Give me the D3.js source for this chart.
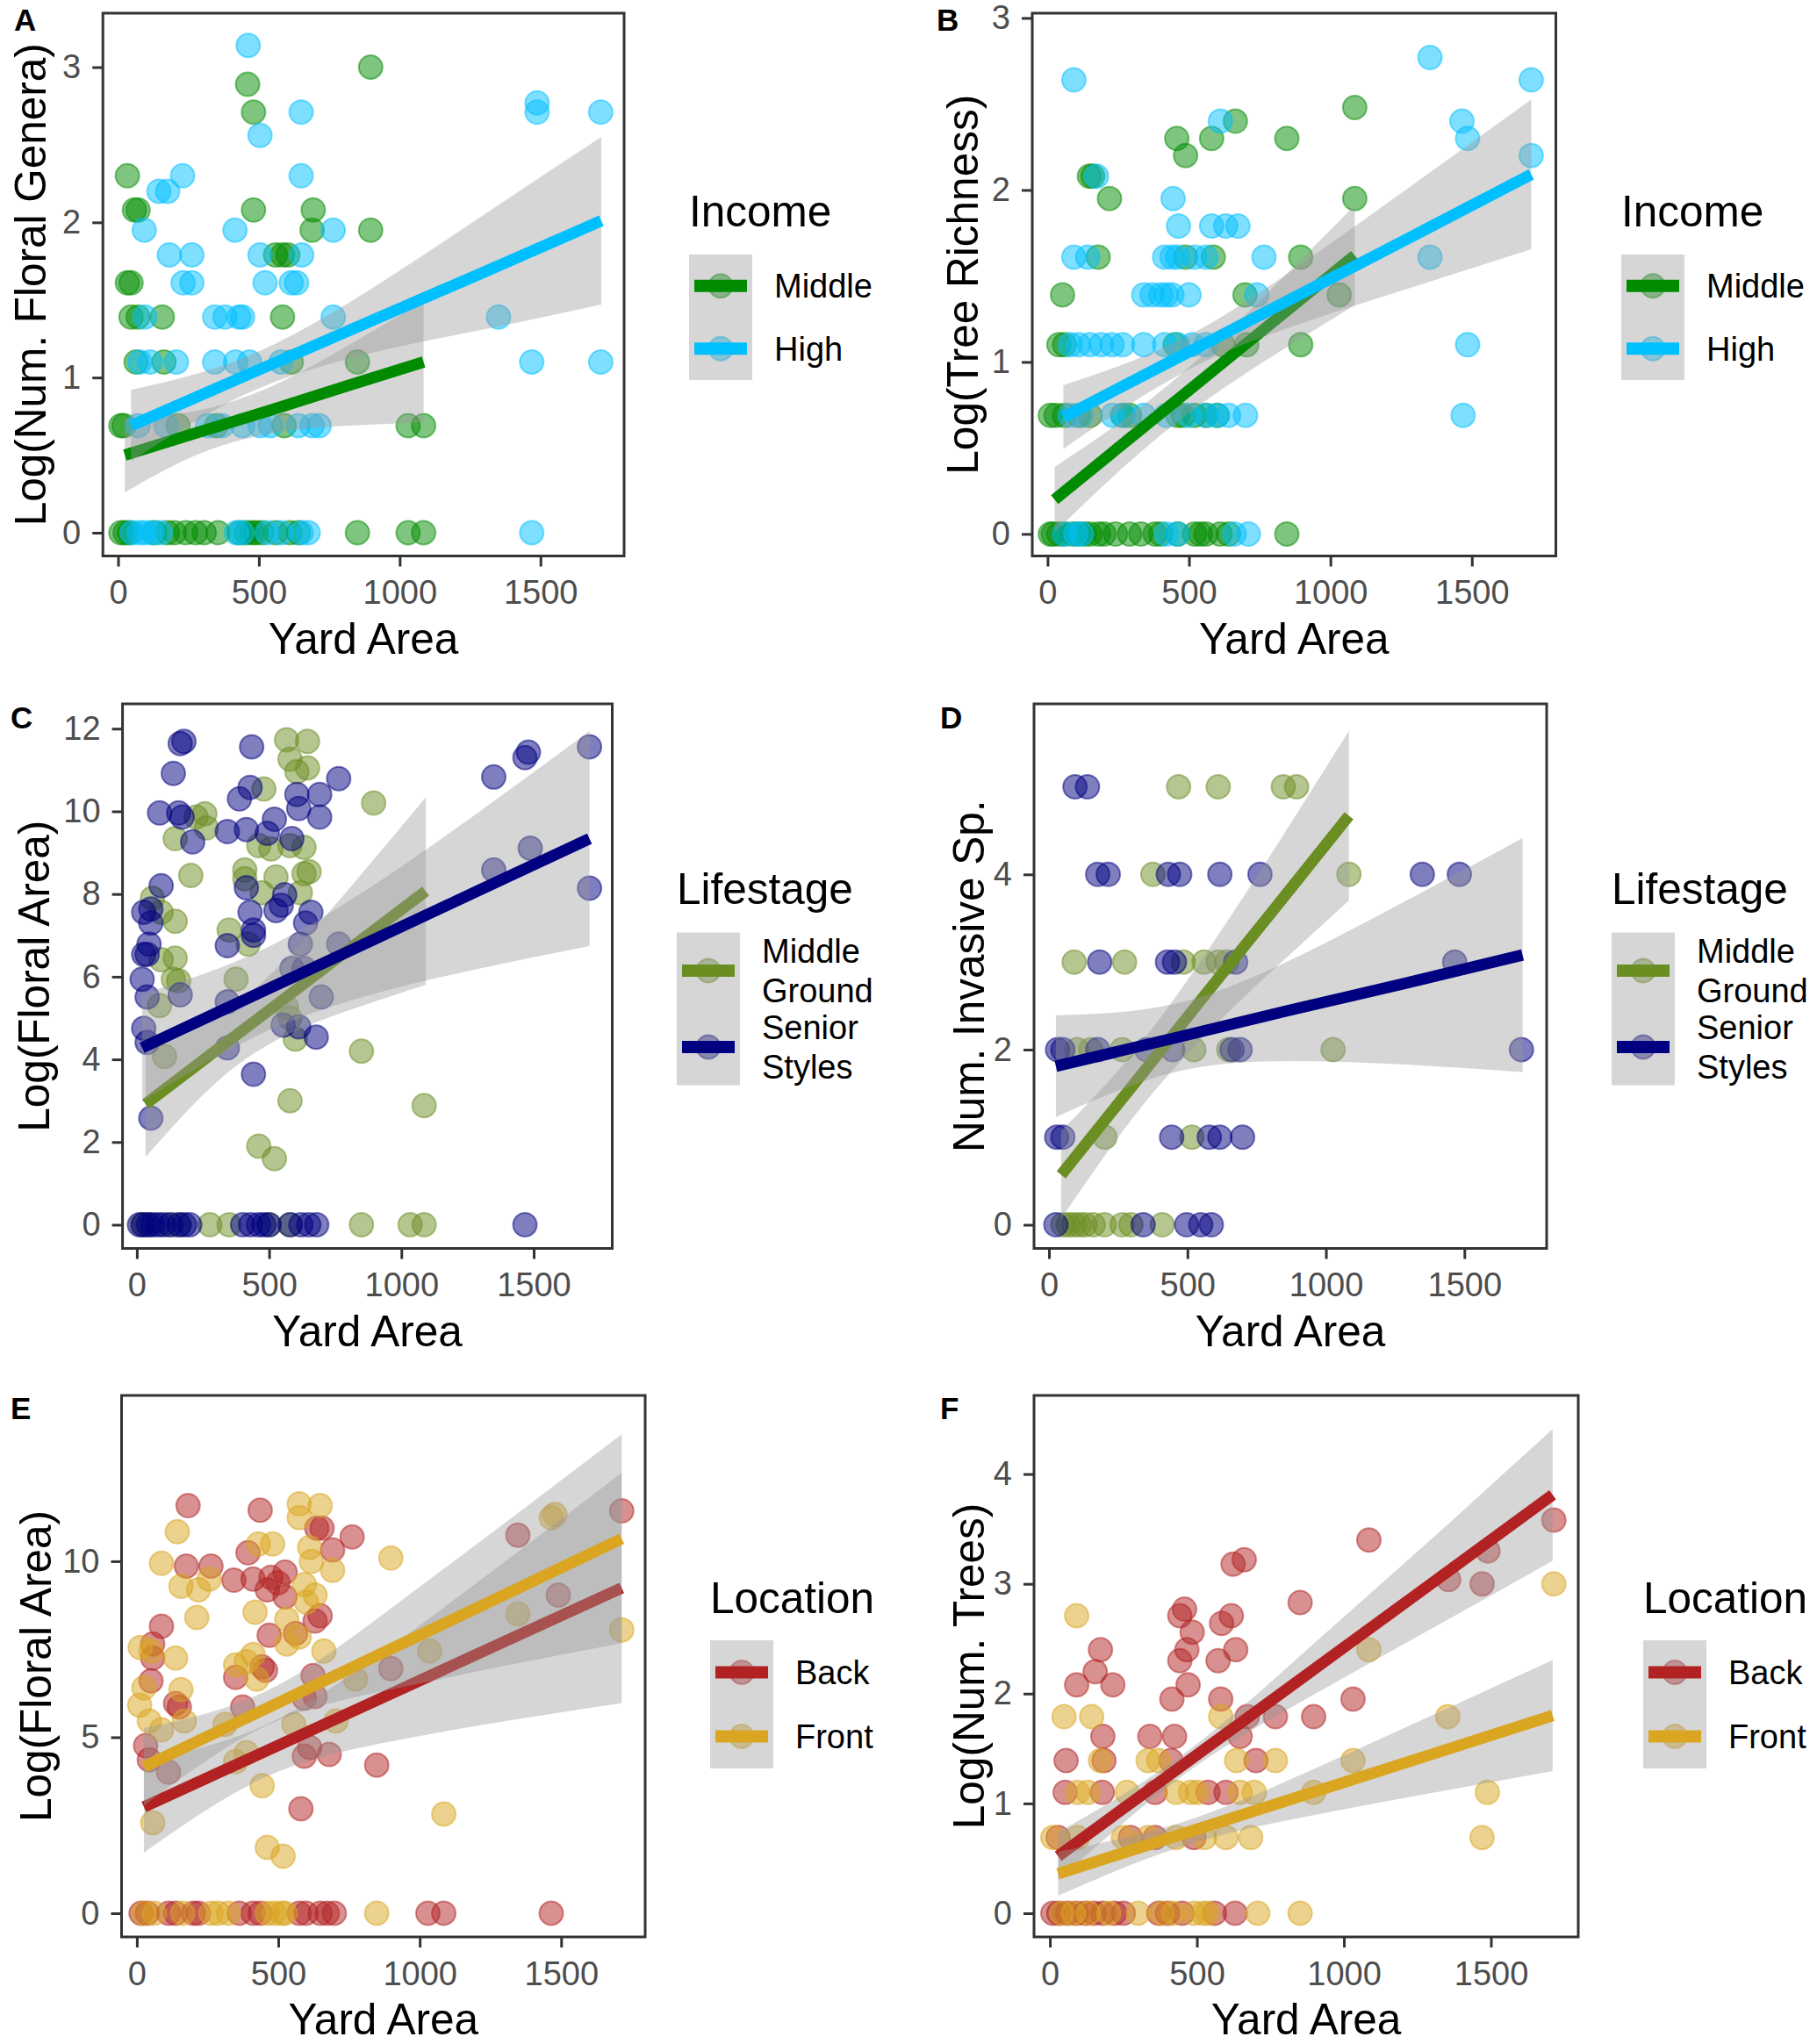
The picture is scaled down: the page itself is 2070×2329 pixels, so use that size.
<!DOCTYPE html>
<html>
<head>
<meta charset="utf-8">
<script src="https://cdn.jsdelivr.net/npm/d3@7"></script>
<style>
  html, body { margin: 0; padding: 0; background: #fff; }
  svg { display: block; }
  text { font-family: "Liberation Sans", Arial, Helvetica, sans-serif; }
</style>
</head>
<body>
<div id="chart"></div>
<script>
// ---- shared axis values ----
const xDomain = [-54, 1797];
const xTicks = [0, 500, 1000, 1500];

// ---- A: Log(Num. Floral Genera) by income ----
const generaMiddle = [
  [10,0],[25,0],[40,0],[130,0],[175,0],[200,0],[240,0],[275,0],[306,0],[355,0],[430,0],[455,0],[475,0],[490,0],[510,0],[560,0],[610,0],[640,0],[850,0],[1030,0],[1085,0],
  [10,0.69],[21,0.69],[213,0.69],[349,0.69],[590,0.69],[1030,0.69],[1085,0.69],
  [64,1.10],[163,1.10],[615,1.10],[850,1.10],
  [46,1.39],[71,1.39],[157,1.39],[584,1.39],
  [33,1.61],[46,1.61],
  [559,1.79],[584,1.79],[603,1.79],
  [689,1.95],[897,1.95],
  [58,2.08],[71,2.08],[481,2.08],[693,2.08],
  [33,2.30],[481,2.71],[460,2.89],[897,3.00]
];
const generaHigh = [
  [50,0],[75,0],[95,0],[120,0],[150,0],[420,0],[440,0],[530,0],[580,0],[650,0],[675,0],[1469,0],
  [71,0.69],[170,0.69],[318,0.69],[368,0.69],[442,0.69],[504,0.69],[541,0.69],[640,0.69],[689,0.69],[714,0.69],
  [77,1.10],[114,1.10],[207,1.10],[343,1.10],[417,1.10],[467,1.10],[578,1.10],[1469,1.10],[1714,1.10],
  [95,1.39],[343,1.39],[380,1.39],[429,1.39],[442,1.39],[764,1.39],[1351,1.39],
  [231,1.61],[262,1.61],[522,1.61],[615,1.61],[634,1.61],
  [182,1.79],[262,1.79],[504,1.79],[652,1.79],
  [93,1.95],[415,1.95],[764,1.95],
  [145,2.20],[176,2.20],
  [229,2.30],[650,2.30],
  [504,2.56],
  [650,2.71],[1488,2.71],[1714,2.71],
  [1488,2.77],
  [462,3.14]
];
const generaMiddleFitX = [24, 290, 560, 820, 1085];
const generaMiddleFitY = [0.50, 0.65, 0.80, 0.95, 1.10];
const generaMiddleFitLo = [0.26, 0.51, 0.645, 0.69, 0.71];
const generaMiddleFitHi = [0.74, 0.79, 0.955, 1.21, 1.49];
const generaHighFitX = [46, 450, 880, 1300, 1716];
const generaHighFitY = [0.69, 1.01, 1.35, 1.68, 2.01];
const generaHighFitLo = [0.46, 0.89, 1.15, 1.31, 1.47];
const generaHighFitHi = [0.92, 1.13, 1.55, 2.05, 2.55];

// ---- B: Log(Tree Richness) by income ----
const richMiddle = [
  [10,0],[20,0],[40,0],[60,0],[90,0],[110,0],[130,0],[150,0],[180,0],[200,0],[240,0],[290,0],[330,0],[380,0],[400,0],[460,0],[520,0],[540,0],[560,0],[610,0],[640,0],[846,0],
  [10,0.69],[30,0.69],[60,0.69],[110,0.69],[150,0.69],[265,0.69],[290,0.69],[460,0.69],[480,0.69],[520,0.69],[560,0.69],[600,0.69],
  [40,1.10],[60,1.10],[451,1.10],[620,1.10],[704,1.10],[895,1.10],
  [53,1.39],[698,1.39],[1031,1.39],
  [179,1.61],[488,1.61],[586,1.61],[895,1.61],
  [219,1.95],[1086,1.95],
  [148,2.08],[160,2.08],
  [488,2.20],
  [457,2.30],[580,2.30],[846,2.30],
  [664,2.40],
  [1086,2.48]
];
const richHigh = [
  [60,0],[100,0],[120,0],[420,0],[460,0],[660,0],[710,0],
  [80,0.69],[120,0.69],[230,0.69],[270,0.69],[340,0.69],[420,0.69],[500,0.69],[560,0.69],[600,0.69],[640,0.69],[700,0.69],[1469,0.69],
  [80,1.10],[110,1.10],[150,1.10],[190,1.10],[228,1.10],[265,1.10],[340,1.10],[414,1.10],[460,1.10],[512,1.10],[560,1.10],[1485,1.10],
  [340,1.39],[370,1.39],[400,1.39],[420,1.39],[440,1.39],[500,1.39],[740,1.39],
  [93,1.61],[142,1.61],[414,1.61],[440,1.61],[460,1.61],[520,1.61],[560,1.61],[765,1.61],[1352,1.61],
  [463,1.79],[580,1.79],[630,1.79],[673,1.79],
  [444,1.95],
  [173,2.08],
  [1710,2.20],
  [1485,2.30],
  [611,2.40],[1465,2.40],
  [93,2.64],[1710,2.64],
  [1352,2.77]
];
const richMiddleFitX = [25, 290, 555, 820, 1086];
const richMiddleFitY = [0.20, 0.555, 0.909, 1.264, 1.62];
const richMiddleFitLo = [0.01, 0.42, 0.77, 1.06, 1.33];
const richMiddleFitHi = [0.39, 0.69, 1.05, 1.47, 1.91];
const richHighFitX = [56, 470, 880, 1300, 1710];
const richHighFitY = [0.68, 1.033, 1.382, 1.74, 2.09];
const richHighFitLo = [0.495, 0.93, 1.215, 1.44, 1.655];
const richHighFitHi = [0.865, 1.13, 1.55, 2.04, 2.525];

// ---- C: Log(Floral Area) by lifestage ----
const areaMiddle = [
  [566,11.73],[645,11.69],[579,11.26],[645,11.05],[605,10.96],[480,10.54],[895,10.20],[257,9.94],[224,9.86],[145,9.34],
  [263,9.60],[204,8.45],[461,9.17],[507,9.09],[579,9.17],[632,9.13],[408,8.58],[408,8.37],[526,8.41],[632,8.49],
  [651,8.54],[474,8.03],[618,8.03],[59,7.90],[92,7.56],[145,7.34],[349,7.13],[421,6.79],[145,6.45],[92,6.41],
  [138,5.94],[158,5.90],[375,5.94],[86,5.30],[105,4.07],[566,5.26],[599,4.49],[579,5.00],[849,4.20],[579,3.00],
  [1086,2.88],[461,1.90],[520,1.60],
  [20,0],[40,0],[120,0],[160,0],[276,0],[349,0],[500,0],[579,0],[849,0],[1033,0],[1086,0]
];
const areaSenior = [
  [178,11.69],[164,11.64],[434,11.56],[138,10.92],[1349,10.83],[1480,11.43],[1467,11.30],[1711,11.56],[86,9.96],[158,9.96],
  [171,9.86],[428,10.58],[388,10.30],[605,10.41],[691,10.41],[763,10.79],[612,10.07],[691,9.86],[342,9.51],[414,9.56],
  [520,9.81],[493,9.47],[586,9.34],[211,9.26],[92,8.20],[26,7.56],[53,7.64],[53,7.30],[414,8.15],[559,7.98],
  [546,7.73],[526,7.60],[428,7.56],[441,7.13],[342,6.75],[441,7.00],[658,7.56],[638,7.30],[618,6.79],[763,6.79],
  [46,6.79],[26,6.54],[39,6.54],[20,5.94],[39,5.51],[164,5.56],[342,5.39],[586,6.20],[632,6.20],[697,5.51],
  [26,4.75],[39,4.41],[1349,8.58],[1487,9.11],[1711,8.14],[441,3.64],[53,2.58],[553,4.83],[612,4.79],[678,4.54],[342,4.28],
  [10,0],[25,0],[45,0],[60,0],[80,0],[100,0],[130,0],[160,0],[180,0],[200,0],[400,0],[430,0],[460,0],[480,0],[500,0],
  [580,0],[620,0],[650,0],[680,0],[1467,0]
];
const areaMiddleFitX = [33, 300, 560, 830, 1092];
const areaMiddleFitY = [2.92, 4.22, 5.48, 6.80, 8.07];
const areaMiddleFitLo = [1.64, 3.44, 4.57, 5.25, 5.80];
const areaMiddleFitHi = [4.20, 5.00, 6.40, 8.34, 10.34];
const areaSeniorFitX = [20, 440, 860, 1290, 1711];
const areaSeniorFitY = [4.28, 5.54, 6.79, 8.08, 9.34];
const areaSeniorFitLo = [2.98, 4.53, 5.52, 6.19, 6.74];
const areaSeniorFitHi = [5.58, 6.55, 8.07, 9.97, 11.94];

// ---- D: Num. Invasive Sp. by lifestage ----
const invasiveMiddle = [
  [468,5],[611,5],[846,5],[894,5],
  [375,4],[1083,4],
  [91,3],[273,3],[485,3],[560,3],[611,3],[642,3],
  [101,2],[151,2],[264,2],[523,2],[649,2],[1026,2],
  [202,1],[516,1],
  [50,0],[70,0],[90,0],[110,0],[130,0],[160,0],[200,0],[264,0],[296,0],[409,0]
];
const invasiveSenior = [
  [94,5],[139,5],
  [176,4],[214,4],[431,4],[472,4],[617,4],[762,4],[1348,4],[1482,4],
  [183,3],[428,3],[453,3],[674,3],[1465,3],
  [31,2],[50,2],[176,2],[353,2],[447,2],[661,2],[690,2],[1706,2],
  [28,1],[50,1],[443,1],[579,1],[617,1],[699,1],
  [25,0],[340,0],[497,0],[548,0],[586,0]
];
const invasiveMiddleFitX = [44, 300, 560, 820, 1083];
const invasiveMiddleFitY = [0.57, 1.58, 2.61, 3.63, 4.67];
const invasiveMiddleFitLo = [0.07, 1.21, 2.15, 2.94, 3.70];
const invasiveMiddleFitHi = [1.07, 1.95, 3.07, 4.32, 5.64];
const invasiveSeniorFitX = [25, 450, 870, 1290, 1710];
const invasiveSeniorFitY = [1.81, 2.13, 2.45, 2.76, 3.08];
const invasiveSeniorFitLo = [1.23, 1.74, 1.87, 1.83, 1.745];
const invasiveSeniorFitHi = [2.39, 2.52, 3.02, 3.70, 4.415];

// ---- E: Log(Floral Area) by location ----
const floralBack = [
  [181,11.58],[436,11.45],[636,10.94],[655,10.94],[761,10.69],[692,10.32],[393,10.24],[262,9.86],[175,9.86],[343,9.46],
  [411,9.49],[474,9.54],[524,9.69],[499,9.39],[461,9.19],[524,8.99],[648,8.45],[630,8.30],[468,7.90],[561,7.95],
  [56,7.65],[56,7.25],[50,6.60],[150,5.86],[137,5.96],[87,8.15],[349,6.70],[455,6.90],[443,7.00],[623,6.75],
  [630,6.16],[592,6.11],[374,5.86],[31,4.76],[44,4.36],[112,4.01],[592,4.46],[680,4.51],[611,4.71],[848,4.21],
  [580,2.97],[898,6.95],[1347,10.74],[1490,9.04],[1714,11.43],
  [15,0],[37,0],[112,0],[137,0],[200,0],[218,0],[362,0],[411,0],[436,0],[574,0],[598,0],[648,0],[673,0],[698,0],
  [1029,0],[1085,0],[1465,0]
];
const floralFront = [
  [143,10.84],[574,11.63],[648,11.58],[574,11.24],[430,10.49],[480,10.49],[87,9.94],[156,9.29],[218,9.19],[256,9.49],
  [212,8.40],[611,10.39],[617,9.99],[692,9.74],[592,9.34],[630,9.04],[599,8.84],[418,8.55],[530,8.35],[574,7.85],
  [411,7.35],[387,7.15],[349,7.05],[530,7.65],[661,7.45],[424,6.65],[12,7.55],[137,7.25],[50,7.45],[156,6.35],
  [25,6.40],[10,5.91],[44,5.46],[168,5.46],[87,5.21],[312,5.36],[704,5.46],[555,5.36],[349,4.31],[387,4.56],
  [443,3.62],[461,1.87],[517,1.62],[1085,2.82],[56,2.57],[898,10.09],[1465,11.24],[1478,11.33],[1347,8.50],[1714,8.05],
  [1035,7.45],[773,6.65],
  [25,0],[62,0],[162,0],[262,0],[287,0],[324,0],[461,0],[486,0],[511,0],[524,0],[848,0]
];
const floralBackFitX = [25, 450, 870, 1290, 1714];
const floralBackFitY = [3.02, 4.585, 6.13, 7.68, 9.24];
const floralBackFitLo = [1.72, 3.85, 4.84, 5.44, 5.97];
const floralBackFitHi = [4.32, 5.33, 7.42, 9.92, 12.51];
const floralFrontFitX = [25, 450, 870, 1290, 1714];
const floralFrontFitY = [4.16, 5.79, 7.40, 9.01, 10.64];
const floralFrontFitLo = [3.06, 5.30, 6.31, 7.01, 7.675];
const floralFrontFitHi = [5.26, 6.28, 8.49, 11.02, 13.605];

// ---- F: Log(Num. Trees) by location ----
const treesBack = [
  [10,0],[30,0],[60,0],[90,0],[120,0],[150,0],[180,0],[220,0],[250,0],[370,0],[400,0],[450,0],[560,0],[630,0],
  [28,0.69],[274,0.69],[358,0.69],[490,0.69],
  [52,1.10],[178,1.10],[358,1.10],[538,1.10],[599,1.10],
  [55,1.39],[184,1.39],[412,1.39],[701,1.39],
  [180,1.61],[340,1.61],[424,1.61],[647,1.61],
  [671,1.79],[767,1.79],[897,1.79],
  [415,1.95],[581,1.95],[1031,1.95],
  [91,2.08],[214,2.08],[470,2.08],
  [154,2.20],
  [442,2.30],[572,2.30],
  [172,2.40],[466,2.40],[632,2.40],
  [484,2.56],[584,2.64],[442,2.71],[617,2.71],[458,2.77],[851,2.83],
  [1470,3.00],[1356,3.04],[623,3.18],[661,3.22],[1490,3.30],[1085,3.40],[1714,3.58]
];
const treesFront = [
  [40,0],[80,0],[130,0],[200,0],[300,0],[380,0],[420,0],[490,0],[520,0],[538,0],[707,0],[851,0],
  [10,0.69],[94,0.69],[250,0.69],[334,0.69],[430,0.69],[526,0.69],[599,0.69],[683,0.69],[1470,0.69],
  [94,1.10],[130,1.10],[262,1.10],[430,1.10],[478,1.10],[502,1.10],[647,1.10],[695,1.10],[897,1.10],[1488,1.10],
  [172,1.39],[334,1.39],[370,1.39],[635,1.39],[767,1.39],[1031,1.39],
  [48,1.79],[142,1.79],[581,1.79],[1353,1.79],
  [1085,2.40],[91,2.71],[1714,3.00]
];
const treesBackFitX = [28, 450, 870, 1290, 1710];
const treesBackFitY = [0.52, 1.345, 2.167, 2.988, 3.81];
const treesBackFitLo = [0.30, 1.25, 1.95, 2.58, 3.21];
const treesBackFitHi = [0.74, 1.44, 2.39, 3.39, 4.41];
const treesFrontFitX = [28, 450, 870, 1290, 1710];
const treesFrontFitY = [0.36, 0.721, 1.081, 1.44, 1.80];
const treesFrontFitLo = [0.16, 0.61, 0.88, 1.09, 1.295];
const treesFrontFitHi = [0.56, 0.83, 1.28, 1.79, 2.305];

// ---- colours ----
const colMiddle = "#008B00", colHigh = "#00BFFF";
const colMidGround = "#6B8E23", colSenior = "#000080";
const colBack = "#B22222", colFront = "#DAA520";

function series(label, color, pts, fx, fy, lo, hi) {
  return { label, color, pts, band: fx.map((v, i) => ({ x: v, fit: fy[i], lo: lo[i], hi: hi[i] })) };
}

const panels = [
  { tag: "A", tagX: 16, tagY: 35, box: [117.2, 711, 15, 633.5], yDomain: [-0.150, 3.348], yTicks: [0, 1, 2, 3],
    yTitle: "Log(Num. Floral Genera)", yTitleX: 52,
    legend: { title: "Income", x: 785, titleY: 258, top: 290, keyH: 71.5 },
    series: [
      series(["Middle"], colMiddle, generaMiddle, generaMiddleFitX, generaMiddleFitY, generaMiddleFitLo, generaMiddleFitHi),
      series(["High"], colHigh, generaHigh, generaHighFitX, generaHighFitY, generaHighFitLo, generaHighFitHi)
    ] },
  { tag: "B", tagX: 1067, tagY: 35, box: [1176, 1772.5, 15, 633.5], yDomain: [-0.128, 3.028], yTicks: [0, 1, 2, 3],
    yTitle: "Log(Tree Richness)", yTitleX: 1114,
    legend: { title: "Income", x: 1847, titleY: 258, top: 290, keyH: 71.5 },
    series: [
      series(["Middle"], colMiddle, richMiddle, richMiddleFitX, richMiddleFitY, richMiddleFitLo, richMiddleFitHi),
      series(["High"], colHigh, richHigh, richHighFitX, richHighFitY, richHighFitLo, richHighFitHi)
    ] },
  { tag: "C", tagX: 12, tagY: 830, box: [139.6, 697.5, 802, 1422.5], yDomain: [-0.573, 12.60], yTicks: [0, 2, 4, 6, 8, 10, 12],
    yTitle: "Log(Floral Area)", yTitleX: 56,
    legend: { title: "Lifestage", x: 771, titleY: 1030, top: 1062.5, keyH: 87 },
    series: [
      series(["Middle", "Ground"], colMidGround, areaMiddle, areaMiddleFitX, areaMiddleFitY, areaMiddleFitLo, areaMiddleFitHi),
      series(["Senior", "Styles"], colSenior, areaSenior, areaSeniorFitX, areaSeniorFitY, areaSeniorFitLo, areaSeniorFitHi)
    ] },
  { tag: "D", tagX: 1071, tagY: 830, box: [1178, 1762, 802, 1422.5], yDomain: [-0.27, 5.947], yTicks: [0, 2, 4],
    yTitle: "Num. Invasive Sp.", yTitleX: 1121,
    legend: { title: "Lifestage", x: 1836, titleY: 1030, top: 1062.5, keyH: 87 },
    series: [
      series(["Middle", "Ground"], colMidGround, invasiveMiddle, invasiveMiddleFitX, invasiveMiddleFitY, invasiveMiddleFitLo, invasiveMiddleFitHi),
      series(["Senior", "Styles"], colSenior, invasiveSenior, invasiveSeniorFitX, invasiveSeniorFitY, invasiveSeniorFitLo, invasiveSeniorFitHi)
    ] },
  { tag: "E", tagX: 12, tagY: 1617, box: [138.5, 735, 1590, 2207], yDomain: [-0.673, 14.71], yTicks: [0, 5, 10],
    yTitle: "Log(Floral Area)", yTitleX: 58,
    legend: { title: "Location", x: 809, titleY: 1837.5, top: 1869, keyH: 73 },
    series: [
      series(["Back"], colBack, floralBack, floralBackFitX, floralBackFitY, floralBackFitLo, floralBackFitHi),
      series(["Front"], colFront, floralFront, floralFrontFitX, floralFrontFitY, floralFrontFitLo, floralFrontFitHi)
    ] },
  { tag: "F", tagX: 1071, tagY: 1617, box: [1178, 1798, 1590, 2207], yDomain: [-0.216, 4.716], yTicks: [0, 1, 2, 3, 4],
    yTitle: "Log(Num. Trees)", yTitleX: 1121,
    legend: { title: "Location", x: 1872, titleY: 1837.5, top: 1869, keyH: 73 },
    series: [
      series(["Back"], colBack, treesBack, treesBackFitX, treesBackFitY, treesBackFitLo, treesBackFitHi),
      series(["Front"], colFront, treesFront, treesFrontFitX, treesFrontFitY, treesFrontFitLo, treesFrontFitHi)
    ] }
];

const svg = d3.select("#chart").append("svg")
  .attr("width", 2070).attr("height", 2329)
  .attr("viewBox", "0 0 2070 2329");
svg.append("rect").attr("width", 2070).attr("height", 2329).attr("fill", "#fff");

const ptR = 13.5;

function drawPanel(p) {
  const [bx0, bx1, by0, by1] = p.box;
  const x = d3.scaleLinear().domain(xDomain).range([bx0, bx1]);
  const y = d3.scaleLinear().domain(p.yDomain).range([by1, by0]);
  const g = svg.append("g");

  // points first, then smooth layers (ribbon + line per group)
  p.series.forEach(s => {
    g.append("g").selectAll("circle").data(s.pts).join("circle")
      .attr("cx", d => x(d[0])).attr("cy", d => y(d[1])).attr("r", ptR)
      .attr("fill", s.color).attr("fill-opacity", 0.5)
      .attr("stroke", s.color).attr("stroke-opacity", 0.5).attr("stroke-width", 2);
  });

  const area = d3.area().x(d => x(d.x)).y0(d => y(d.lo)).y1(d => y(d.hi)).curve(d3.curveNatural);
  const line = d3.line().x(d => x(d.x)).y(d => y(d.fit));
  p.series.forEach(s => {
    g.append("path").datum(s.band).attr("d", area)
      .attr("fill", "#999999").attr("fill-opacity", 0.4);
    g.append("path").datum(s.band).attr("d", line)
      .attr("fill", "none").attr("stroke", s.color).attr("stroke-width", 13);
  });

  g.append("rect").attr("x", bx0).attr("y", by0)
    .attr("width", bx1 - bx0).attr("height", by1 - by0)
    .attr("fill", "none").attr("stroke", "#333333").attr("stroke-width", 3);

  const xa = g.append("g").attr("transform", `translate(0,${by1})`)
    .call(d3.axisBottom(x).tickValues(xTicks).tickSize(12).tickPadding(16).tickFormat(d3.format("d")));
  const ya = g.append("g").attr("transform", `translate(${bx0},0)`)
    .call(d3.axisLeft(y).tickValues(p.yTicks).tickSize(12).tickPadding(13).tickFormat(d3.format("d")));
  [xa, ya].forEach(a => {
    a.select(".domain").remove();
    a.selectAll(".tick line").attr("stroke", "#333333").attr("stroke-width", 3);
    a.selectAll(".tick text").attr("fill", "#4D4D4D").attr("font-size", 38)
      .attr("font-family", "Liberation Sans, Arial, sans-serif");
  });

  g.append("text").attr("x", (bx0 + bx1) / 2).attr("y", by1 + 111)
    .attr("text-anchor", "middle").attr("font-size", 49.5).attr("fill", "#000")
    .text("Yard Area");
  g.append("text")
    .attr("transform", `translate(${p.yTitleX},${(by0 + by1) / 2}) rotate(-90)`)
    .attr("text-anchor", "middle").attr("font-size", 49.5).attr("fill", "#000")
    .text(p.yTitle);
  g.append("text").attr("x", p.tagX).attr("y", p.tagY)
    .attr("font-size", 35).attr("font-weight", "bold").attr("fill", "#000")
    .text(p.tag);

  // legend
  const L = p.legend, keyW = 72;
  const lg = svg.append("g");
  lg.append("text").attr("x", L.x).attr("y", L.titleY)
    .attr("font-size", 49.5).attr("fill", "#000").text(L.title);
  p.series.forEach((s, i) => {
    const ky = L.top + i * L.keyH, kc = ky + L.keyH / 2;
    lg.append("circle").attr("cx", L.x + keyW / 2).attr("cy", kc).attr("r", ptR)
      .attr("fill", s.color).attr("fill-opacity", 0.5)
      .attr("stroke", s.color).attr("stroke-opacity", 0.5).attr("stroke-width", 2);
    lg.append("rect").attr("x", L.x).attr("y", ky).attr("width", keyW).attr("height", L.keyH)
      .attr("fill", "#999999").attr("fill-opacity", 0.4);
    lg.append("line").attr("x1", L.x + 6).attr("x2", L.x + keyW - 6)
      .attr("y1", kc).attr("y2", kc).attr("stroke", s.color).attr("stroke-width", 14);
    const lineGap = 44.5;
    const first = kc + 13.6 - (s.label.length - 1) * lineGap / 2;
    s.label.forEach((t, j) => {
      lg.append("text").attr("x", L.x + 97).attr("y", first + j * lineGap)
        .attr("font-size", 38).attr("fill", "#000").text(t);
    });
  });
}

panels.forEach(drawPanel);
</script>
</body>
</html>
